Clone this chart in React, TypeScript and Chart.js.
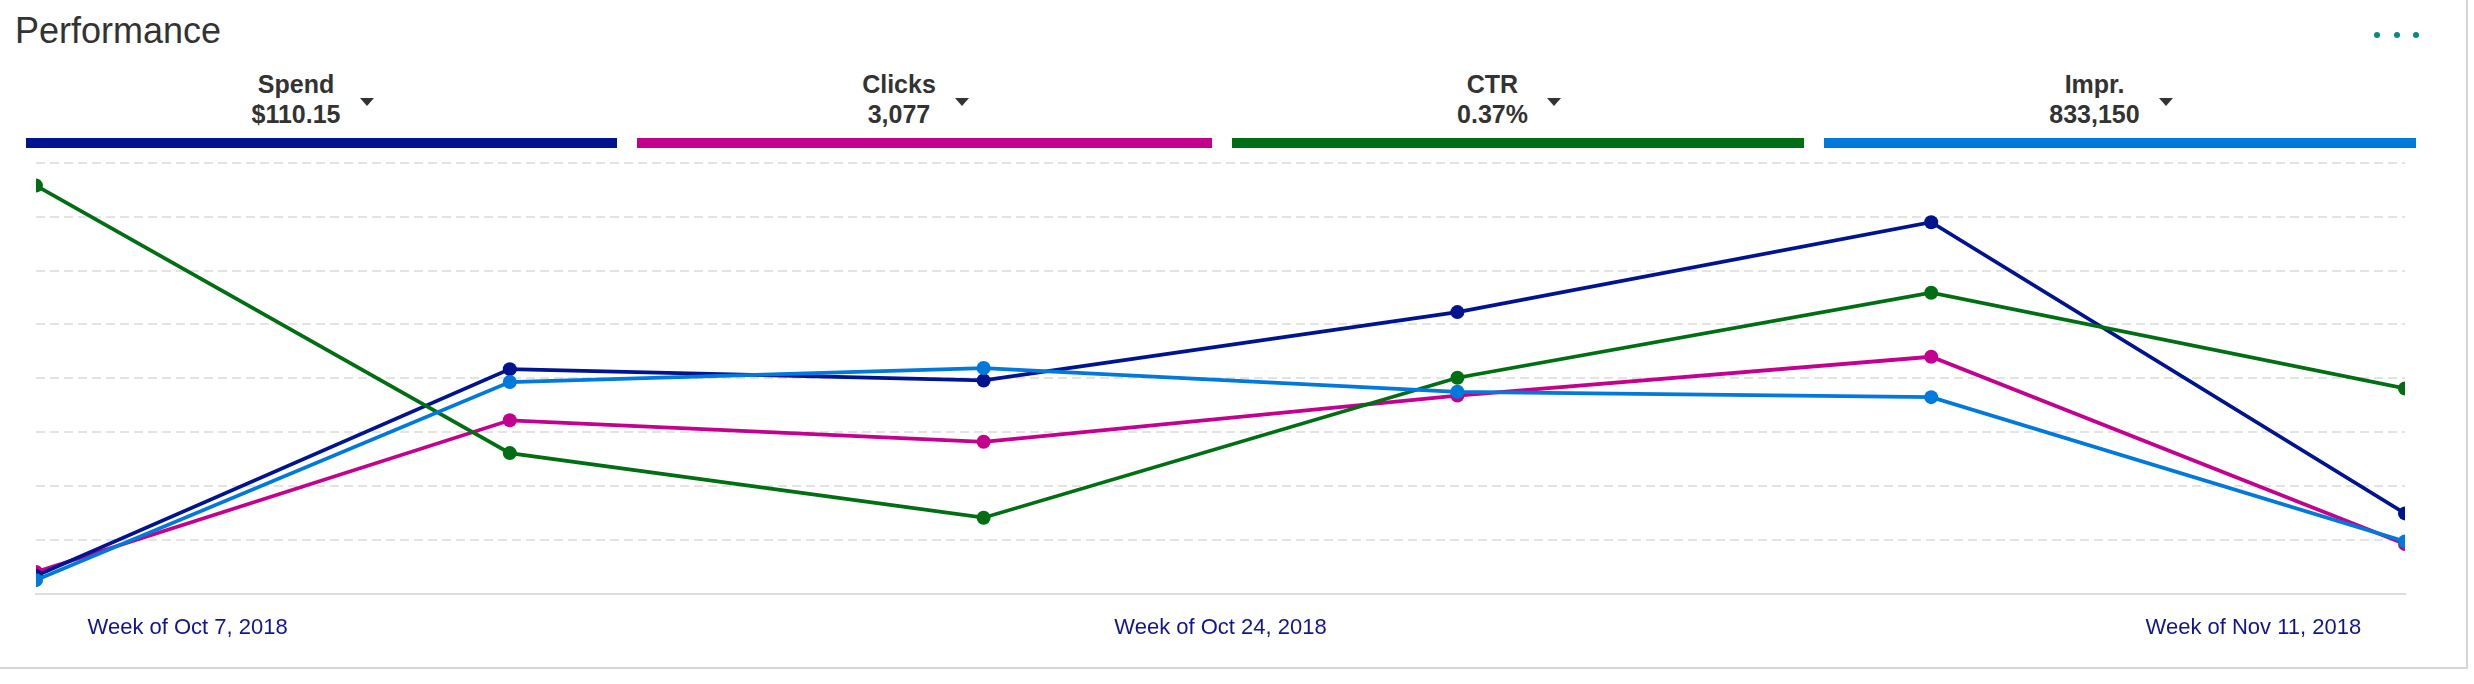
import React, { useEffect, useRef } from "react";
import { Chart, registerables } from "chart.js";

Chart.register(...registerables);

// ---- Data ----
const weekIndex = [0, 1, 2, 3, 4, 5];
const xTickLabels = ["Week of Oct 7, 2018", "Week of Oct 24, 2018", "Week of Nov 11, 2018"];
const xTickValues = [0.32, 2.5, 4.68];

const spendValues = [0.33, 4.17, 3.96, 5.23, 6.9, 1.49];
const clicksValues = [0.4, 3.22, 2.82, 3.68, 4.4, 0.92];
const ctrValues = [7.58, 2.61, 1.41, 4.01, 5.59, 3.81];
const imprValues = [0.25, 3.93, 4.19, 3.75, 3.65, 0.97];

const metricNames = ["Spend", "Clicks", "CTR", "Impr."];
const metricTotals = ["$110.15", "3,077", "0.37%", "833,150"];

// ---- Styles ----
const COLORS = ["#00148f", "#c4008f", "#006e12", "#0079dd"];
const FONT = '"Liberation Sans", Arial, Helvetica, sans-serif';
const tabLayout = [
  { left: 26, width: 591 },
  { left: 637, width: 575 },
  { left: 1232, width: 572 },
  { left: 1824, width: 592 },
];

export default function App() {
  const canvasRef = useRef<HTMLCanvasElement | null>(null);

  useEffect(() => {
    const canvas = canvasRef.current;
    if (!canvas) return;
    const series = [spendValues, clicksValues, ctrValues, imprValues];
    const orders = [2, 3, 1, 0];
    const chart = new Chart(canvas, {
      type: "line",
      data: {
        datasets: series.map((vals, si) => ({
          label: metricNames[si],
          data: weekIndex.map((x, i) => ({ x, y: vals[i] })),
          borderColor: COLORS[si],
          backgroundColor: COLORS[si],
          borderWidth: 3.75,
          pointRadius: 7,
          pointHoverRadius: 7,
          pointBorderWidth: 0,
          pointBackgroundColor: COLORS[si],
          tension: 0,
          order: orders[si],
          clip: { left: 0, right: 0, top: false, bottom: false } as any,
        })),
      },
      options: {
        animation: false,
        responsive: false,
        devicePixelRatio: 1,
        layout: { padding: { left: 36, right: 35, top: 13, bottom: 12 } },
        plugins: { legend: { display: false }, tooltip: { enabled: false } },
        scales: {
          x: {
            type: "linear",
            min: 0,
            max: 5,
            grid: { display: false, drawTicks: false },
            border: { display: true, color: "#dcdce1", width: 2 },
            afterBuildTicks: (axis: any) => {
              axis.ticks = xTickValues.map((v) => ({ value: v }));
            },
            ticks: {
              autoSkip: false,
              maxRotation: 0,
              padding: 21,
              color: "#12168c",
              font: { family: FONT, size: 22 },
              callback: (_v: any, i: number) => xTickLabels[i],
            },
          },
          y: {
            min: 0,
            max: 8,
            ticks: { display: false, stepSize: 1 },
            grid: {
              drawTicks: false,
              lineWidth: 2,
              color: (ctx: any) => (ctx.tick && ctx.tick.value === 0 ? "rgba(0,0,0,0)" : "#e3e3e3"),
            },
            border: { display: false, dash: [9, 5] },
          },
        },
      },
    } as any);
    return () => chart.destroy();
  }, []);

  return (
    <div
      style={{
        position: "absolute",
        left: 0,
        top: 0,
        width: 2474,
        height: 684,
        background: "#fff",
        fontFamily: FONT,
        overflow: "hidden",
      }}
    >
      <div
        style={{
          position: "absolute",
          left: -2,
          top: -2,
          width: 2470,
          height: 671,
          border: "2px solid #d6d6d6",
          boxSizing: "border-box",
          pointerEvents: "none",
        }}
      />
      <div
        style={{
          position: "absolute",
          left: 15,
          top: 13,
          fontSize: 36,
          lineHeight: "36px",
          color: "#333",
          whiteSpace: "nowrap",
        }}
      >
        Performance
      </div>
      {[2377, 2397, 2416].map((cx) => (
        <div
          key={cx}
          style={{
            position: "absolute",
            left: cx - 3,
            top: 32,
            width: 6,
            height: 6,
            borderRadius: 3,
            background: "#0a8a79",
          }}
        />
      ))}
      {tabLayout.map((t, i) => (
        <React.Fragment key={i}>
          <div
            style={{
              position: "absolute",
              left: t.left,
              top: 69,
              width: t.width,
              display: "flex",
              justifyContent: "center",
              alignItems: "center",
            }}
          >
            <div
              style={{
                fontWeight: "bold",
                fontSize: 25,
                lineHeight: "30px",
                textAlign: "center",
                color: "#333",
                whiteSpace: "nowrap",
              }}
            >
              <div>{metricNames[i]}</div>
              <div>{metricTotals[i]}</div>
            </div>
            <div
              style={{
                width: 0,
                height: 0,
                marginLeft: 19,
                marginRight: 18,
                marginTop: 6,
                borderLeft: "7.5px solid transparent",
                borderRight: "7.5px solid transparent",
                borderTop: "8px solid #333",
              }}
            />
          </div>
          <div
            style={{
              position: "absolute",
              left: t.left,
              top: 138,
              width: t.width,
              height: 10,
              background: COLORS[i],
            }}
          />
        </React.Fragment>
      ))}
      <canvas
        ref={canvasRef}
        width={2440}
        height={524}
        style={{ position: "absolute", left: 0, top: 150, width: 2440, height: 524 }}
      />
    </div>
  );
}
